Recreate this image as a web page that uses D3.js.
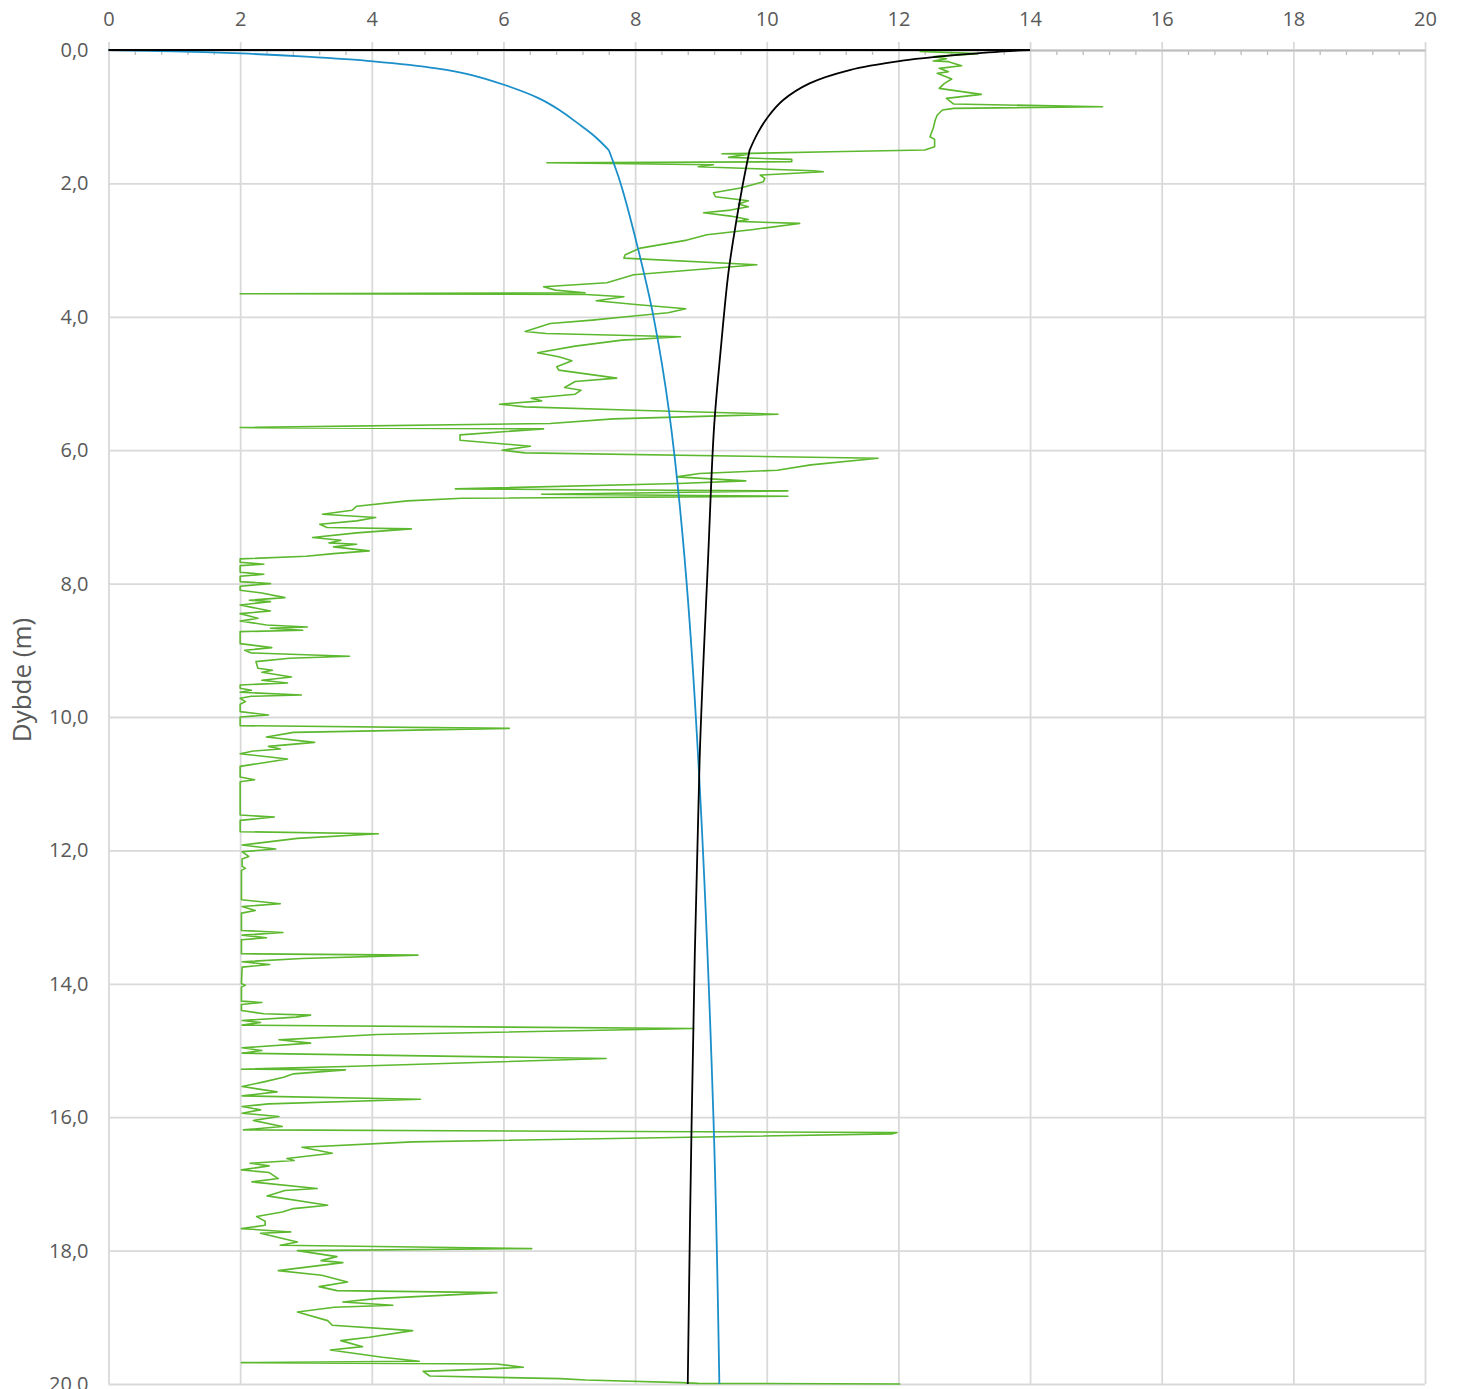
<!DOCTYPE html>
<html>
<head>
<meta charset="utf-8">
<script src="https://cdn.jsdelivr.net/npm/d3@7"></script>
<style>
  body { margin: 0; background: #fff; }
  svg { display: block; font-family: 'Open Sans', sans-serif; }
</style>
</head>
<body>
<svg id="chart"></svg>
<script>
const width = 1457;
const height = 1389;
const margin = { top: 50, left: 108.5, right: 32, bottom: 5 };

// axis ticks
const xTicks = [0, 2, 4, 6, 8, 10, 12, 14, 16, 18, 20];
const yTicks = [0, 2, 4, 6, 8, 10, 12, 14, 16, 18, 20];
const yTitle = 'Dybde (m)';

// [value, depth] pairs
const blueCurve = [
  [0, 0], [1, 0.02], [2.02, 0.052], [3, 0.1], [4.02, 0.17], [4.98, 0.275], [5.52, 0.375],
  [6.02, 0.525], [6.54, 0.725], [6.85, 0.9], [7.13, 1.1], [7.38, 1.29], [7.6, 1.5],
  [7.78, 2.0], [8.05, 3.0], [8.28, 4.0], [8.52, 5.45], [8.75, 7.6],
  [8.96, 10.64], [9.19, 16.0], [9.28, 20.0]
];

const blackCurve = [
  [0, 0], [14, 0], [13.6, 0.02], [13.2, 0.05], [12.6, 0.1], [12.06, 0.16], [11.26, 0.3],
  [10.65, 0.5], [10.25, 0.75], [10.02, 1.0], [9.86, 1.25], [9.74, 1.5],
  [9.62, 2.1], [9.49, 2.85], [9.41, 3.4], [9.3, 4.5], [9.2, 5.65], [9.11, 7.6],
  [8.98, 10.64], [8.86, 16.0], [8.8, 20.0]
];

const greenProfile = [
  [12.5, 0.0], [12.33, 0.02], [13.2, 0.055], [12.54, 0.1], [12.73, 0.13], [12.53, 0.165],
  [12.76, 0.175], [12.96, 0.235], [12.62, 0.275], [12.76, 0.325], [12.59, 0.35], [12.81, 0.435],
  [12.7, 0.5], [12.62, 0.575], [13.26, 0.665], [12.73, 0.725], [12.84, 0.81], [15.1, 0.85],
  [12.84, 0.875], [12.67, 0.9], [12.59, 0.975], [12.56, 1.05], [12.53, 1.17], [12.48, 1.3],
  [12.55, 1.34], [12.55, 1.45], [12.4, 1.5], [10.97, 1.525], [9.73, 1.55], [9.32, 1.555],
  [9.7, 1.565], [9.42, 1.61], [10.38, 1.64], [10.38, 1.675], [6.66, 1.69], [9.19, 1.72],
  [8.96, 1.75], [10.71, 1.81], [10.86, 1.825], [9.9, 1.875], [9.97, 1.925], [9.95, 1.975],
  [9.6, 2.07], [9.19, 2.14], [9.22, 2.2], [9.72, 2.26], [9.57, 2.31], [9.72, 2.35], [9.45, 2.4],
  [9.04, 2.44], [9.45, 2.49], [9.72, 2.54], [9.55, 2.57], [10.5, 2.6], [9.8, 2.69], [9.09, 2.77],
  [8.79, 2.85], [8.08, 2.97], [7.85, 3.07], [7.83, 3.12], [9.85, 3.22], [7.98, 3.37], [7.57, 3.49],
  [6.61, 3.55], [6.79, 3.6], [7.24, 3.64], [2.0, 3.655], [7.25, 3.665], [7.83, 3.7], [7.41, 3.76],
  [8.05, 3.82], [8.77, 3.88], [8.5, 3.94], [7.86, 4.0], [7.35, 4.05], [6.71, 4.1], [6.33, 4.22],
  [6.65, 4.25], [8.69, 4.3], [7.8, 4.35], [7.09, 4.44], [6.52, 4.54], [6.84, 4.6], [7.04, 4.66],
  [6.81, 4.75], [6.84, 4.8], [7.72, 4.92], [7.09, 4.97], [6.93, 5.06], [7.18, 5.1], [7.09, 5.16],
  [6.42, 5.22], [6.58, 5.26], [5.94, 5.31], [6.33, 5.35], [7.99, 5.4], [10.17, 5.46], [7.67, 5.53],
  [6.71, 5.6], [2.0, 5.66], [6.61, 5.68], [5.34, 5.77], [5.34, 5.85], [6.41, 5.94], [5.98, 6.0],
  [6.33, 6.04], [11.69, 6.12], [10.67, 6.22], [10.16, 6.3], [8.98, 6.35], [8.63, 6.4], [9.68, 6.46],
  [8.66, 6.5], [5.27, 6.58], [10.32, 6.61], [6.58, 6.66], [10.32, 6.69], [5.37, 6.72], [4.54, 6.76],
  [3.77, 6.84], [3.7, 6.9], [3.25, 6.96], [4.06, 7.01], [3.77, 7.06], [3.21, 7.11], [3.32, 7.16],
  [4.6, 7.18], [3.77, 7.24], [3.1, 7.31], [3.53, 7.35], [3.35, 7.39], [3.77, 7.41], [3.42, 7.45],
  [3.96, 7.51], [3.42, 7.55], [3.0, 7.59], [2.0, 7.63], [2.0, 7.68], [2.36, 7.71], [2.0, 7.73],
  [2.0, 7.83], [2.36, 7.86], [2.0, 7.89], [2.0, 7.97], [2.46, 8.0], [2.0, 8.04], [2.0, 8.1],
  [2.33, 8.14], [2.68, 8.21], [2.14, 8.25], [2.46, 8.27], [2.0, 8.32], [2.2, 8.36], [2.46, 8.41],
  [2.0, 8.45], [2.27, 8.52], [2.0, 8.56], [2.4, 8.62], [3.02, 8.65], [2.46, 8.67], [2.95, 8.7],
  [2.0, 8.72], [2.0, 8.9], [2.48, 8.96], [2.07, 9.0], [2.17, 9.04], [3.66, 9.09], [2.75, 9.12],
  [2.24, 9.17], [2.27, 9.27], [2.49, 9.3], [2.33, 9.33], [2.78, 9.4], [2.33, 9.45], [2.72, 9.49],
  [2.0, 9.52], [2.0, 9.57], [2.17, 9.6], [2.0, 9.63], [2.93, 9.67], [2.17, 9.69], [2.0, 9.72],
  [2.08, 9.77], [2.0, 9.81], [2.0, 9.92], [2.43, 9.97], [2.0, 10.0], [2.0, 10.13], [6.09, 10.17],
  [2.81, 10.23], [2.4, 10.3], [3.13, 10.38], [2.43, 10.44], [2.61, 10.48], [2.2, 10.51], [2.0, 10.55],
  [2.72, 10.63], [2.0, 10.74], [2.0, 10.9], [2.22, 10.94], [2.0, 10.97], [2.0, 11.47], [2.52, 11.5],
  [2.0, 11.55], [2.0, 11.72], [4.1, 11.75], [2.87, 11.82], [2.03, 11.92], [2.54, 11.98], [2.03, 12.02],
  [2.13, 12.09], [2.03, 12.13], [2.03, 12.24], [2.08, 12.27], [2.02, 12.3], [2.02, 12.74], [2.61, 12.8],
  [2.03, 12.84], [2.23, 12.9], [2.02, 12.94], [2.02, 13.2], [2.65, 13.23], [2.03, 13.27], [2.4, 13.31],
  [2.02, 13.34], [2.02, 13.55], [4.7, 13.57], [2.94, 13.62], [2.03, 13.67], [2.45, 13.71], [2.03, 13.75],
  [2.02, 14.0], [2.08, 14.02], [2.02, 14.05], [2.02, 14.26], [2.33, 14.28], [2.02, 14.31], [2.02, 14.4],
  [2.36, 14.45], [3.07, 14.47], [2.85, 14.5], [2.03, 14.55], [2.31, 14.58], [2.03, 14.62], [8.89, 14.67],
  [4.08, 14.76], [2.59, 14.84], [3.07, 14.89], [2.03, 14.96], [2.33, 15.0], [2.03, 15.04], [7.56, 15.12],
  [3.6, 15.24], [2.02, 15.28], [3.6, 15.29], [2.81, 15.35], [2.66, 15.4], [2.36, 15.47], [2.03, 15.54],
  [2.56, 15.62], [2.03, 15.68], [4.74, 15.73], [2.43, 15.8], [2.03, 15.84], [2.31, 15.89], [2.03, 15.94],
  [2.59, 15.99], [2.2, 16.05], [2.64, 16.14], [2.05, 16.19], [11.98, 16.23], [11.9, 16.25], [4.62, 16.37],
  [2.94, 16.45], [3.4, 16.54], [2.71, 16.62], [2.82, 16.65], [2.15, 16.69], [2.44, 16.73], [2.02, 16.79],
  [2.44, 16.83], [2.58, 16.92], [2.18, 16.97], [3.17, 17.07], [2.68, 17.1], [2.41, 17.18], [3.33, 17.32],
  [2.81, 17.37], [2.64, 17.42], [2.25, 17.49], [2.38, 17.56], [2.38, 17.62], [2.02, 17.67], [2.77, 17.72],
  [2.31, 17.74], [2.87, 17.87], [2.61, 17.92], [6.43, 17.97], [2.87, 18.0], [3.47, 18.09], [3.23, 18.15],
  [3.56, 18.18], [2.58, 18.3], [3.24, 18.37], [3.63, 18.47], [3.2, 18.54], [3.47, 18.6], [5.9, 18.63],
  [4.06, 18.72], [3.56, 18.77], [4.32, 18.82], [3.43, 18.85], [2.87, 18.92], [3.33, 19.05], [3.4, 19.12],
  [4.62, 19.2], [3.96, 19.3], [3.53, 19.35], [3.86, 19.44], [3.37, 19.49], [4.16, 19.6], [4.72, 19.66],
  [2.02, 19.68], [5.9, 19.7], [6.3, 19.75], [5.61, 19.78], [4.78, 19.81], [4.88, 19.88], [6.86, 19.92],
  [7.25, 19.94], [8.7, 19.98], [8.96, 19.99], [12.03, 20.0]
];

const svg = d3.select('#chart').attr('width', width).attr('height', height);

const x = d3.scaleLinear().domain([0, 20]).range([margin.left, 1425]);
const y = d3.scaleLinear().domain([0, 20]).range([margin.top, 1384]);
const plotH = y(20) - y(0);
const plotW = x(20) - x(0);

// vertical gridlines
svg.append('g')
  .attr('transform', `translate(0, ${y(0)})`)
  .call(d3.axisTop(x).tickValues(xTicks).tickSize(-plotH).tickFormat(''))
  .call((g) => g.select('.domain').remove())
  .call((g) => g.selectAll('line').attr('stroke', '#d9d9d9').attr('stroke-width', 1.8));

// horizontal gridlines
svg.append('g')
  .attr('transform', `translate(${x(0)}, 0)`)
  .call(d3.axisLeft(y).tickValues(yTicks).tickSize(-plotW).tickFormat(''))
  .call((g) => g.select('.domain').remove())
  .call((g) => g.selectAll('line').attr('stroke', '#d9d9d9').attr('stroke-width', 1.8));

// minor ticks on top axis (inside)
const minorTicks = d3.range(0, 20.001, 0.4).filter((v) => Math.abs(v / 2 - Math.round(v / 2)) > 0.01);
svg.append('g')
  .attr('transform', `translate(0, ${y(0)})`)
  .call(d3.axisTop(x).tickValues(minorTicks).tickSize(-5).tickFormat(''))
  .call((g) => g.select('.domain').remove())
  .call((g) => g.selectAll('line').attr('stroke', '#bfbfbf').attr('stroke-width', 1.4));

// top axis
svg.append('g')
  .attr('transform', `translate(0, ${y(0)})`)
  .call(d3.axisTop(x).tickValues(xTicks).tickSize(8).tickSizeOuter(0).tickPadding(16).tickFormat(d3.format('d')))
  .call((g) => g.select('.domain').attr('stroke', '#bfbfbf').attr('stroke-width', 1.8))
  .call((g) => g.selectAll('line').attr('stroke', '#d9d9d9').attr('stroke-width', 1.8))
  .call((g) => g.selectAll('text').attr('fill', '#595959').attr('font-size', 20)
    .attr('font-family', "'Open Sans', sans-serif"));

// left axis labels
svg.append('g')
  .attr('transform', `translate(${x(0)}, 0)`)
  .call(d3.axisLeft(y).tickValues(yTicks).tickSize(0).tickPadding(20)
    .tickFormat((d) => d.toFixed(1).replace('.', ',')))
  .call((g) => g.select('.domain').remove())
  .call((g) => g.selectAll('text').attr('fill', '#595959').attr('font-size', 20)
    .attr('font-family', "'Open Sans', sans-serif"));

svg.append('text')
  .attr('transform', 'translate(31, 680) rotate(-90)')
  .attr('text-anchor', 'middle')
  .attr('fill', '#595959')
  .attr('font-size', 26)
  .text(yTitle);

const line = d3.line().x((d) => x(d[0])).y((d) => y(d[1]));
const smooth = d3.line().x((d) => x(d[0])).y((d) => y(d[1])).curve(d3.curveCatmullRom.alpha(0.5));

svg.append('path')
  .datum(greenProfile)
  .attr('d', line)
  .attr('fill', 'none')
  .attr('stroke', '#5cb82e')
  .attr('stroke-width', 1.6)
  .attr('stroke-linejoin', 'round');

// blue: smooth upper part, kink at 1.5 m, smooth lower part
const blueKink = blueCurve.findIndex((d) => d[1] === 1.5);
[blueCurve.slice(0, blueKink + 1), blueCurve.slice(blueKink)].forEach((part) => {
  svg.append('path')
    .datum(part)
    .attr('d', smooth)
    .attr('fill', 'none')
    .attr('stroke', '#1a8fc9')
    .attr('stroke-width', 1.8);
});

// black: straight top edge, then smooth curve with the same kink at 1.5 m
svg.append('path')
  .datum(blackCurve.slice(0, 2))
  .attr('d', line)
  .attr('fill', 'none')
  .attr('stroke', '#000')
  .attr('stroke-width', 2);

const blackKink = blackCurve.findIndex((d) => d[1] === 1.5);
[blackCurve.slice(1, blackKink + 1), blackCurve.slice(blackKink)].forEach((part) => {
  svg.append('path')
    .datum(part)
    .attr('d', smooth)
    .attr('fill', 'none')
    .attr('stroke', '#000')
    .attr('stroke-width', 1.8);
});
</script>
</body>
</html>
